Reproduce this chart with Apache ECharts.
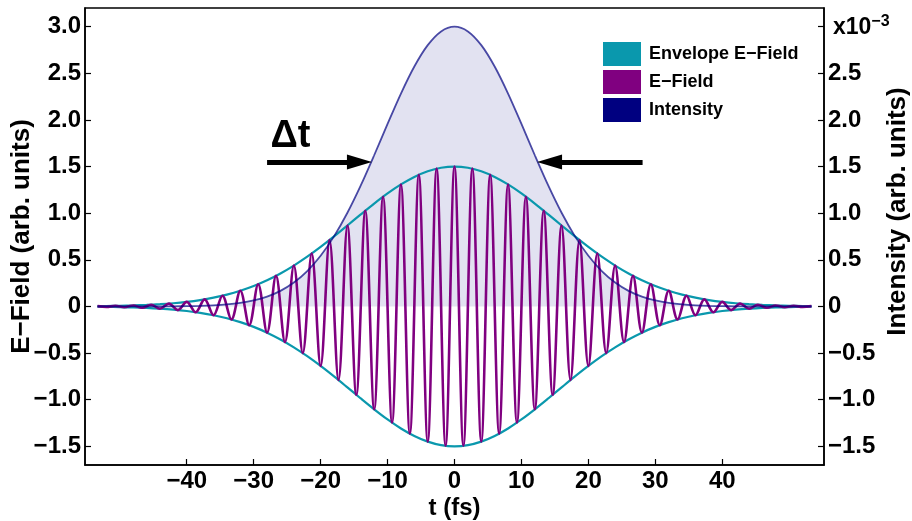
<!DOCTYPE html>
<html><head><meta charset="utf-8">
<script src="https://cdn.jsdelivr.net/npm/echarts@6/dist/echarts.min.js"></script>
<style>html,body{margin:0;padding:0;background:#fff}#c{width:912px;height:521px}</style>
</head><body><div id="c"></div>
<script>
// ---------- data ----------
const xTicks = [-40, -30, -20, -10, 0, 10, 20, 30, 40];
const yTicks = [-1.5, -1, -0.5, 0, 0.5, 1, 1.5, 2, 2.5, 3];

// E-field extrema (peaks / troughs) time positions (fs) and values
const eTime = [-53.33,-52,-50.67,-49.33,-48,-46.67,-45.33,-44,-42.67,-41.33,-40,-38.67,-37.33,-36,-34.67,-33.33,-32,-30.67,-29.33,-28,-26.67,-25.33,-24,-22.67,-21.33,-20,-18.67,-17.33,-16,-14.67,-13.33,-12,-10.67,-9.33,-8,-6.67,-5.33,-4,-2.67,-1.33,0,1.33,2.67,4,5.33,6.67,8,9.33,10.67,12,13.33,14.67,16,17.33,18.67,20,21.33,22.67,24,25.33,26.67,28,29.33,30.67,32,33.33,34.67,36,37.33,38.67,40,41.33,42.67,44,45.33,46.67,48,49.33,50.67,52,53.33];
const eValue = [0.0034,-0.0046,0.0062,-0.0083,0.0109,-0.0143,0.0186,-0.0240,0.0307,-0.0390,0.0491,-0.0615,0.0763,-0.0940,0.1150,-0.1396,0.1682,-0.2011,0.2385,-0.2809,0.3282,-0.3807,0.4381,-0.5004,0.5672,-0.6381,0.7124,-0.7894,0.8680,-0.9472,1.0259,-1.1027,1.1763,-1.2452,1.3083,-1.3641,1.4115,-1.4496,1.4774,-1.4943,1.5,-1.4943,1.4774,-1.4496,1.4115,-1.3641,1.3083,-1.2452,1.1763,-1.1027,1.0259,-0.9472,0.8680,-0.7894,0.7124,-0.6381,0.5672,-0.5004,0.4381,-0.3807,0.3282,-0.2809,0.2385,-0.2011,0.1682,-0.1396,0.1150,-0.0940,0.0763,-0.0615,0.0491,-0.0390,0.0307,-0.0240,0.0186,-0.0143,0.0109,-0.0083,0.0062,-0.0046,0.0034];

// Envelope and intensity samples
const envTime = [-53.33,-52,-50,-48,-46,-44,-42,-40,-38,-36,-34,-32,-30,-28,-26,-24,-22,-20,-18,-16,-14,-12,-10,-8,-6,-4,-2,0,2,4,6,8,10,12,14,16,18,20,22,24,26,28,30,32,34,36,38,40,42,44,46,48,50,52,53.33];
const envUpper = [0.0034,0.0046,0.0072,0.0109,0.0163,0.0240,0.0346,0.0491,0.0686,0.0940,0.1269,0.1682,0.2192,0.2809,0.3538,0.4381,0.5333,0.6381,0.7506,0.8680,0.9867,1.1027,1.2114,1.3083,1.3889,1.4496,1.4872,1.5,1.4872,1.4496,1.3889,1.3083,1.2114,1.1027,0.9867,0.8680,0.7506,0.6381,0.5333,0.4381,0.3538,0.2809,0.2192,0.1682,0.1269,0.0940,0.0686,0.0491,0.0346,0.0240,0.0163,0.0109,0.0072,0.0046,0.0034];
const envLower = [-0.0034,-0.0046,-0.0072,-0.0109,-0.0163,-0.0240,-0.0346,-0.0491,-0.0686,-0.0940,-0.1269,-0.1682,-0.2192,-0.2809,-0.3538,-0.4381,-0.5333,-0.6381,-0.7506,-0.8680,-0.9867,-1.1027,-1.2114,-1.3083,-1.3889,-1.4496,-1.4872,-1.5,-1.4872,-1.4496,-1.3889,-1.3083,-1.2114,-1.1027,-0.9867,-0.8680,-0.7506,-0.6381,-0.5333,-0.4381,-0.3538,-0.2809,-0.2192,-0.1682,-0.1269,-0.0940,-0.0686,-0.0491,-0.0346,-0.0240,-0.0163,-0.0109,-0.0072,-0.0046,-0.0034];
const intensity = [0,0,0.0001,0.0002,0.0004,0.0008,0.0016,0.0032,0.0063,0.0118,0.0215,0.0377,0.0641,0.1052,0.1669,0.2559,0.3792,0.5429,0.7512,1.0045,1.2982,1.6213,1.9567,2.2822,2.5722,2.8017,2.9492,3.0,2.9492,2.8017,2.5722,2.2822,1.9567,1.6213,1.2982,1.0045,0.7512,0.5429,0.3792,0.2559,0.1669,0.1052,0.0641,0.0377,0.0215,0.0118,0.0063,0.0032,0.0016,0.0008,0.0004,0.0002,0.0001,0,0];

// Δt annotation (arrows pointing at the intensity half maximum)
const arrowLeft = [-28.0, -14.2];
const arrowRight = [28.1, 14.2];
const arrowLevel = 1.55;
const dtLabelPos = [-24.5, 1.82];

// ---------- chart ----------
const FONT = "'Liberation Sans', Arial, Helvetica, sans-serif";
const MINUS = '\u2212';
function fmt(v) {
  if (Math.abs(v) < 1e-9) return '0';
  const s = Math.abs(v).toFixed(1);
  return v < 0 ? MINUS + s : s;
}
function fmtX(v) {
  if (Math.abs(v) < 1e-9) return '0';
  return v < 0 ? MINUS + Math.abs(v) : String(v);
}
const pairs = (xs, ys) => xs.map((x, i) => [x, ys[i]]);

const labelStyle = { fontFamily: FONT, fontWeight: 'bold', fontSize: 24, color: '#000' };
const titleStyle = { fontFamily: FONT, fontWeight: 'bold', fontSize: 26, color: '#000' };
const ENV = '#0a98ad', EF = '#800080', INT = '#000080';

const chart = echarts.init(document.getElementById('c'), null, { renderer: 'canvas' });
chart.setOption({
  animation: false,
  backgroundColor: '#fff',
  grid: { left: 85, right: 88, top: 8, bottom: 56, containLabel: false, outerBoundsMode: 'none',
          show: true, borderColor: '#000', borderWidth: 1.5, backgroundColor: 'transparent' },
  legend: {
    orient: 'vertical', left: 603, top: 42, padding: 0, itemWidth: 38, itemHeight: 24, itemGap: 4,
    icon: 'rect', selectedMode: false,
    textStyle: { fontFamily: FONT, fontWeight: 'bold', fontSize: 18, color: '#000', padding: [0, 0, 0, 3] },
    data: [
      { name: 'Envelope E\u2212Field', itemStyle: { color: ENV } },
      { name: 'E\u2212Field', itemStyle: { color: EF } },
      { name: 'Intensity', itemStyle: { color: INT } }
    ]
  },
  xAxis: {
    type: 'value', min: -55.2, max: 55.2,
    name: 't (fs)', nameLocation: 'middle', nameGap: 31, nameMoveOverlap: false,
    nameTextStyle: Object.assign({}, labelStyle),
    axisLine: { onZero: false, lineStyle: { color: '#000', width: 1.5 } },
    axisTick: { inside: true, length: 6, customValues: xTicks, lineStyle: { color: '#000', width: 1.2 } },
    axisLabel: Object.assign({ customValues: xTicks, margin: 4, formatter: fmtX }, labelStyle),
    splitLine: { show: false }
  },
  yAxis: [
    {
      type: 'value', min: -1.7, max: 3.2, position: 'left',
      name: 'E\u2212Field (arb. units)', nameLocation: 'middle', nameGap: 50, nameRotate: 90, nameMoveOverlap: false,
      nameTextStyle: Object.assign({}, titleStyle),
      axisLine: { show: true, onZero: false, lineStyle: { color: '#000', width: 1.5 } },
      axisTick: { show: true, inside: true, length: 6, customValues: yTicks, lineStyle: { color: '#000', width: 1.2 } },
      axisLabel: Object.assign({ customValues: yTicks, margin: 4, formatter: fmt }, labelStyle),
      splitLine: { show: false }
    },
    {
      type: 'value', min: -1.7, max: 3.2, position: 'right',
      name: 'Intensity (arb. units)', nameLocation: 'middle', nameGap: 61, nameRotate: 90, nameMoveOverlap: false,
      nameTextStyle: Object.assign({}, titleStyle, { padding: [0, 0, 0, 50] }),
      axisLine: { show: true, onZero: false, lineStyle: { color: '#000', width: 1.5 } },
      axisTick: { show: true, inside: true, length: 6, customValues: yTicks, lineStyle: { color: '#000', width: 1.2 } },
      axisLabel: Object.assign({
        customValues: yTicks, margin: 4,
        formatter: v => Math.abs(v - 3) < 1e-9 ? '{a|x10}{b|' + MINUS + '3}' : fmt(v),
        rich: {
          a: { fontFamily: FONT, fontWeight: 'bold', fontSize: 23, color: '#000', lineHeight: 26, verticalAlign: 'bottom', padding: [0, 0, 0, 5] },
          b: { fontFamily: FONT, fontWeight: 'bold', fontSize: 16, color: '#000', lineHeight: 16, verticalAlign: 'top' }
        }
      }, labelStyle),
      splitLine: { show: false }
    }
  ],
  series: [
    {
      name: 'Intensity', type: 'line', data: pairs(envTime, intensity), smooth: 0.3,
      showSymbol: false, silent: true, z: 1,
      itemStyle: { color: INT },
      lineStyle: { width: 0, opacity: 0 },
      areaStyle: { color: 'rgba(0,0,128,0.16)', origin: 0 }
    },
    {
      name: 'Envelope E\u2212Field', type: 'line', data: pairs(envTime, envUpper), smooth: 0.3,
      showSymbol: false, silent: true, z: 2,
      itemStyle: { color: ENV }, lineStyle: { color: ENV, width: 2.2 }
    },
    {
      name: 'Envelope E\u2212Field', type: 'line', data: pairs(envTime, envLower), smooth: 0.3,
      showSymbol: false, silent: true, z: 2,
      itemStyle: { color: ENV }, lineStyle: { color: ENV, width: 2.2 }
    },
    {
      name: 'E\u2212Field', type: 'line', data: pairs(eTime, eValue), smooth: 0.35,
      showSymbol: false, silent: true, z: 3,
      itemStyle: { color: EF }, lineStyle: { color: EF, width: 2.6 }
    },
    {
      name: 'Intensity', type: 'line', data: pairs(envTime, intensity), smooth: 0.3,
      showSymbol: false, silent: true, z: 4,
      itemStyle: { color: INT }, lineStyle: { color: 'rgba(0,0,128,0.7)', width: 1.8 },
      markLine: {
        silent: true, animation: false,
        symbol: ['none', 'none'],
        label: { show: false },
        lineStyle: { color: '#000', width: 5, type: 'solid' },
        emphasis: { disabled: true },
        data: [
          [{ coord: [arrowLeft[0], arrowLevel] }, { coord: [arrowLeft[1], arrowLevel] }],
          [{ coord: [arrowRight[0], arrowLevel] }, { coord: [arrowRight[1], arrowLevel] }]
        ]
      },
      markPoint: {
        silent: true, animation: false,
        data: [
          {
            coord: dtLabelPos, symbol: 'rect', symbolSize: 1, itemStyle: { color: 'rgba(0,0,0,0)' },
            label: { show: true, position: 'inside', formatter: '\u0394t', fontFamily: FONT, fontWeight: 'bold', fontSize: 38, color: '#000' }
          },
          {
            coord: [arrowLeft[1], arrowLevel], symbol: 'triangle', symbolSize: [15, 25], symbolRotate: -90,
            itemStyle: { color: '#000' }, label: { show: false }
          },
          {
            coord: [arrowRight[1], arrowLevel], symbol: 'triangle', symbolSize: [15, 25], symbolRotate: 90,
            itemStyle: { color: '#000' }, label: { show: false }
          }
        ]
      }
    }
  ]
});
</script>
</body></html>
